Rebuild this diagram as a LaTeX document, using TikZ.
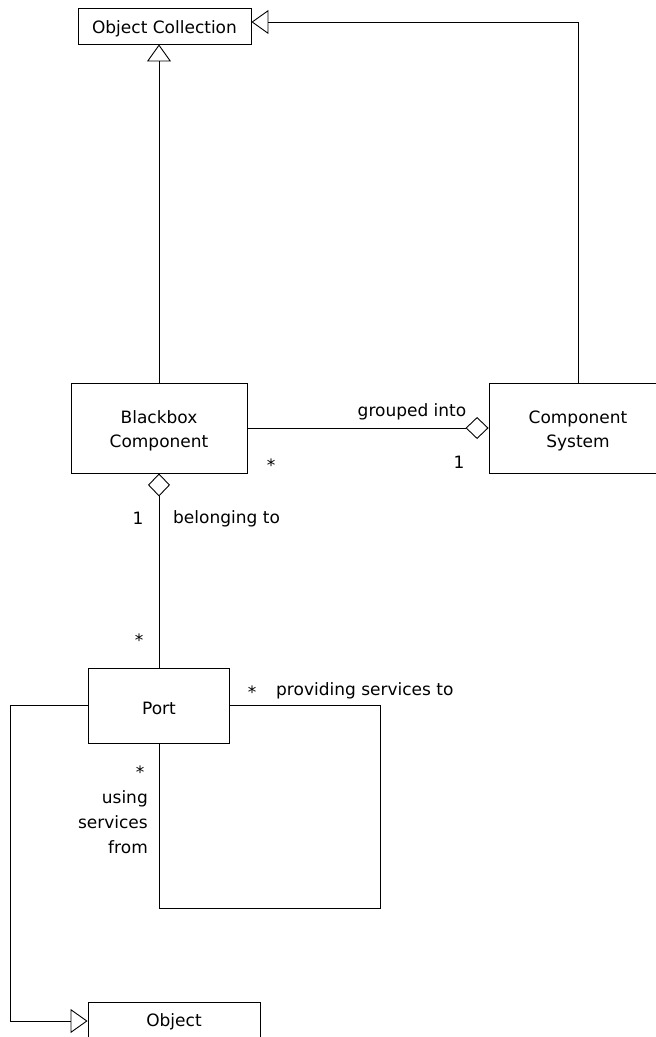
\documentclass[tikz,border=0pt]{standalone}
\usepackage{fontspec}
\setmainfont{DejaVu Sans}
\usetikzlibrary{arrows.meta}
\begin{document}
\begin{tikzpicture}[x=1pt,y=-1pt,
  cls/.style={draw, line width=0.9pt, inner sep=0pt},
  txt/.style={inner sep=0pt, align=center, font=\fontsize{17}{24}\selectfont},
  lbl/.style={inner sep=0pt, font=\fontsize{17}{25}\selectfont},
  conn/.style={line width=0.9pt},
  gen/.style={conn, -{Triangle[open, length=17pt, width=24pt]}},
  agg/.style={conn, -{Diamond[open, length=23pt, width=22pt]}}]
\useasboundingbox (0,0) rectangle (656,1037);
\node[cls, minimum width=173pt, minimum height=36pt] (oc) at (164.5,26) {};
\node[txt] (oct) at ([yshift=-3pt]oc.center) {Object Collection};
\node[cls, minimum width=176pt, minimum height=90pt] (bb) at (159,428) {};
\node[txt] (bbt) at ([yshift=-3pt]bb.center) {Blackbox\\Component};
\node[cls, minimum width=178pt, minimum height=90pt] (cs) at (578,428) {};
\node[txt] (cst) at ([yshift=-3pt]cs.center) {Component\\System};
\node[cls, minimum width=141pt, minimum height=75pt] (port) at (159,705.5) {};
\node[txt] (portt) at ([yshift=-3pt]port.center) {Port};
\node[cls, minimum width=172pt, minimum height=38pt] (obj) at (174,1021) {};
\node[txt] (objt) at ([yshift=-1pt]obj.center) {Object};
\coordinate (loop) at (380,908);
\coordinate (lft) at (10,1021);
% generalizations
\draw[gen] (bb.north) -- (bb.north |- oc.south);
\draw[gen] (cs.north) |- ([yshift=4pt]oc.east);
\draw[conn] (port.west) -| (lft);
\draw[gen] (lft) -- (obj.west);
% aggregations
\draw[agg] (bb.east) -- (cs.west);
\draw[agg] (port.north) -- (bb.south);
% self association
\draw[conn] (port.east) -| (loop) -| (port.south);
% labels
\node[lbl] (l1) at (412,412) {grouped into};
\node[lbl] (l2) at (271,465) {*};
\node[lbl] (l3) at (459,462) {1};
\node[lbl] (l4) at (138,518) {1};
\node[lbl, anchor=west] (l5) at (173,519) {belonging to};
\node[lbl] (l6) at (139,640) {*};
\node[lbl] (l7) at (252,692) {*};
\node[lbl, anchor=west] (l8) at (276,691) {providing services to};
\node[lbl] (l9) at (140,772) {*};
\node[lbl, align=right, anchor=east] (l10) at (148,822) {using\\services\\from};
\end{tikzpicture}
\end{document}
